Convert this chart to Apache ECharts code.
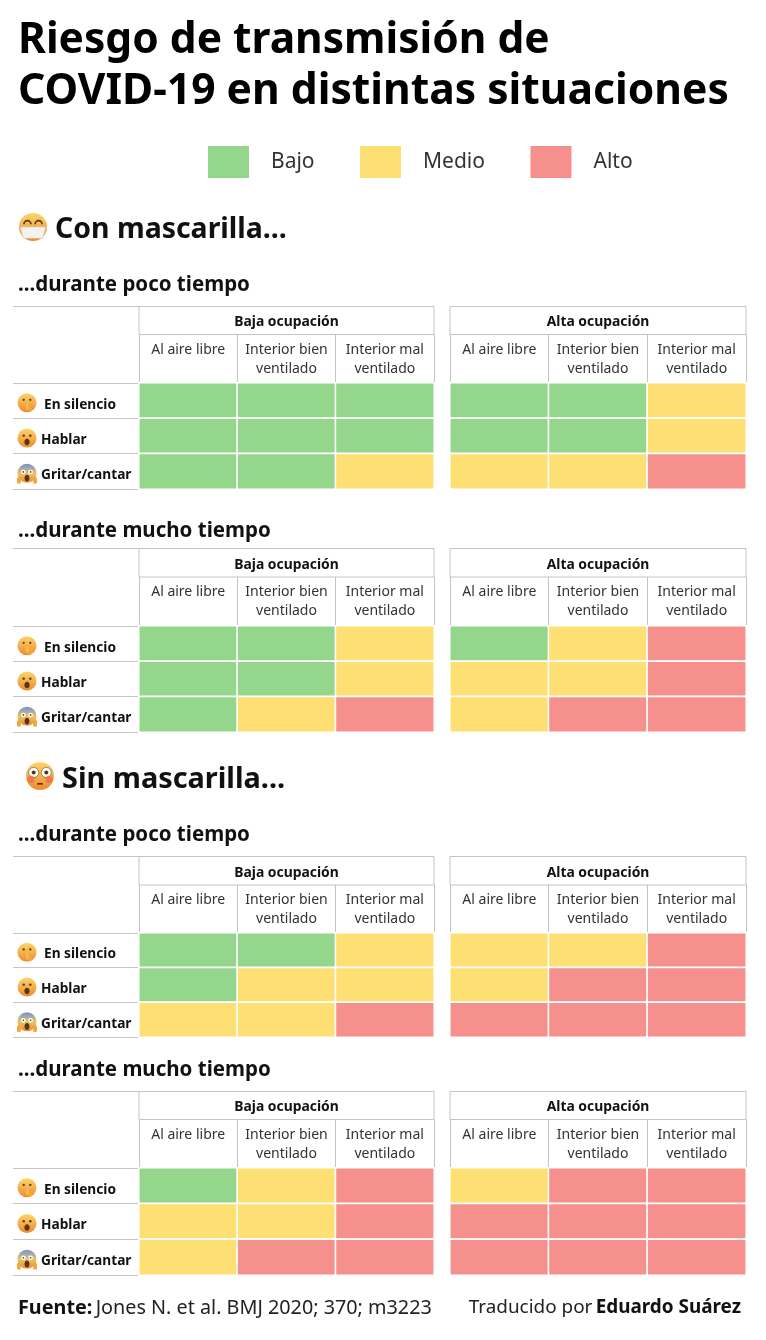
<!DOCTYPE html>
<html><head><meta charset="utf-8">
<style>html,body{margin:0;padding:0;background:#fff}#c{width:766px;height:1340px}</style>
<script src="https://cdn.jsdelivr.net/npm/echarts@6/dist/echarts.min.js"></script>
</head><body><div id="c"></div>
<script>
// 0 = Bajo, 1 = Medio, 2 = Alto
const riskLabels = ['Bajo','Medio','Alto'];
const riskColors = ['#94d78c','#fedf73','#f6908d'];
const columns = ['Al aire libre','Interior bien\nventilado','Interior mal\nventilado'];
const rows = ['En silencio','Hablar','Gritar/cantar'];
const occupancy = ['Baja ocupación','Alta ocupación'];

const conPocoBaja   = [[0,0,0],[0,0,0],[0,0,1]];
const conPocoAlta   = [[0,0,1],[0,0,1],[1,1,2]];
const conMuchoBaja  = [[0,0,1],[0,0,1],[0,1,2]];
const conMuchoAlta  = [[0,1,2],[1,1,2],[1,2,2]];
const sinPocoBaja   = [[0,0,1],[0,1,1],[1,1,2]];
const sinPocoAlta   = [[1,1,2],[1,2,2],[2,2,2]];
const sinMuchoBaja  = [[0,1,2],[1,1,2],[1,2,2]];
const sinMuchoAlta  = [[1,2,2],[2,2,2],[2,2,2]];

const F = '"Noto Sans", sans-serif';
const LINE = '#c4c4c4';
const blocks = [
  {top:306.5, mid:334.5, cellTop:383, cellBottom:489,  sets:[conPocoBaja,conPocoAlta]},
  {top:548.5, mid:577,   cellTop:626, cellBottom:732,  sets:[conMuchoBaja,conMuchoAlta]},
  {top:856.5, mid:885,   cellTop:933, cellBottom:1037, sets:[sinPocoBaja,sinPocoAlta]},
  {top:1091.5,mid:1119.5,cellTop:1168,cellBottom:1275, sets:[sinMuchoBaja,sinMuchoAlta]}
];
const panelX = [[139,434],[450,746]];

const grid=[], xAxis=[], yAxis=[], series=[], graphic=[];

function line(x1,y1,x2,y2){graphic.push({type:'line',silent:true,shape:{x1,y1,x2,y2},style:{stroke:LINE,lineWidth:1}});}
function text(x,y,t,size,weight,color){graphic.push({type:'text',silent:true,x,y,style:{text:t,font:(weight||'normal')+' '+size+'px '+F,fill:color||'#111',textVerticalAlign:'middle'}});}

function face(cx,cy,r,kind){
  const ch=[];
  const s=r/10;
  ch.push({type:'circle',shape:{cx:0,cy:0,r},style:{fill:new echarts.graphic.LinearGradient(0,0,0,1,[{offset:0,color:'#fbd66a'},{offset:1,color:'#ee8a2e'}])}});
  const dark='#5a3414';
  const eye=(x,y,rr)=>ch.push({type:'circle',shape:{cx:x*s,cy:y*s,r:rr*s},style:{fill:dark}});
  if(kind==='mask'){
    ch.push({type:'polygon',shape:{points:[[-9*s,0],[9*s,0],[7*s,8*s],[-7*s,8*s]]},style:{fill:'#f4f2ee',stroke:'#cfcac2',lineWidth:.5}});
    ch.push({type:'arc',shape:{cx:-4*s,cy:-2*s,r:2.5*s,startAngle:Math.PI,endAngle:0},style:{stroke:dark,fill:'none',lineWidth:1.2*s}});
    ch.push({type:'arc',shape:{cx:4*s,cy:-2*s,r:2.5*s,startAngle:Math.PI,endAngle:0},style:{stroke:dark,fill:'none',lineWidth:1.2*s}});
  } else if(kind==='flushed'){
    [-4.5,4.5].forEach(x=>{
      ch.push({type:'circle',shape:{cx:x*s,cy:-2.5*s,r:3.6*s},style:{fill:'#fff',stroke:dark,lineWidth:.5}});
      eye(x,-2.5,1.4);
      ch.push({type:'circle',shape:{cx:x*1.45*s,cy:2.5*s,r:2.6*s},style:{fill:'#ef6a4a',opacity:.75}});
    });
    ch.push({type:'rect',shape:{x:-2*s,y:5*s,width:4*s,height:1.2*s},style:{fill:dark}});
  } else if(kind==='shush'){
    eye(-3.5,-3,1.2); eye(3.5,-3,1.2);
    ch.push({type:'circle',shape:{cx:2*s,cy:5*s,r:4*s},style:{fill:'#f2a63c'}});
    ch.push({type:'rect',shape:{x:-.8*s,y:0,width:2.4*s,height:7*s,r:1*s},style:{fill:'#f6bb52'}});
  } else if(kind==='talk'){
    eye(-3.5,-2.5,1.3); eye(3.5,-2.5,1.3);
    ch.push({type:'ellipse',shape:{cx:0,cy:4.3*s,rx:2.8*s,ry:3.4*s},style:{fill:dark}});
  } else {
    ch[0].style.fill=new echarts.graphic.LinearGradient(0,0,0,1,[{offset:0,color:'#6f8fd8'},{offset:.5,color:'#e8c56a'},{offset:1,color:'#ee8a2e'}]);
    ch.push({type:'circle',shape:{cx:-3.8*s,cy:-1.5*s,r:2.4*s},style:{fill:'#fff'}});
    ch.push({type:'circle',shape:{cx:3.8*s,cy:-1.5*s,r:2.4*s},style:{fill:'#fff'}});
    eye(-3.8,-1.5,.9); eye(3.8,-1.5,.9);
    ch.push({type:'ellipse',shape:{cx:0,cy:5*s,rx:2.6*s,ry:3.6*s},style:{fill:dark}});
    ch.push({type:'rect',shape:{x:-10.5*s,y:4*s,width:4*s,height:7*s,r:1.5*s},style:{fill:'#f2a63c'}});
    ch.push({type:'rect',shape:{x:6.5*s,y:4*s,width:4*s,height:7*s,r:1.5*s},style:{fill:'#f2a63c'}});
  }
  graphic.push({type:'group',silent:true,x:cx,y:cy,children:ch});
}

const rowFont={fontFamily:F,fontSize:13.7,fontWeight:'bold',color:'#111'};

blocks.forEach(b=>{
  const h=b.cellBottom-b.cellTop;
  b.sets.forEach((set,p)=>{
    const [l,r]=panelX[p], idx=grid.length;
    grid.push({left:l,top:b.cellTop,width:r-l,height:h,show:false,outerBoundsMode:'none'});
    xAxis.push({type:'category',gridIndex:idx,position:'top',data:columns,
      axisLine:{show:false},
      axisTick:{show:true,length:b.cellTop-b.mid,lineStyle:{color:LINE,width:1}},
      axisLabel:{interval:0,fontFamily:F,fontSize:14,color:'#333',lineHeight:19,verticalAlign:'top',margin:b.cellTop-b.mid-6},
      name:occupancy[p],nameLocation:'middle',nameGap:b.cellTop-(b.top+b.mid)/2-2,
      nameTextStyle:{fontFamily:F,fontSize:13.9,fontWeight:'bold',color:'#111',verticalAlign:'middle'}});
    yAxis.push({type:'category',gridIndex:idx,inverse:true,data:rows,
      axisLine:{show:false},
      axisTick:{show:p===0,length:126,lineStyle:{color:LINE,width:1}},
      axisLabel:Object.assign({show:p===0,interval:0,align:'left',margin:98,padding:[8,0,0,0],
        formatter:v=>v===rows[0]?'{s|'+v+'}':v,
        rich:{s:Object.assign({padding:[0,0,0,3]},rowFont)}},rowFont)});
    const data=[];
    set.forEach((row,y)=>row.forEach((v,x)=>data.push([x,y,v])));
    series.push({type:'heatmap',xAxisIndex:idx,yAxisIndex:idx,data,silent:true,
      itemStyle:{borderColor:'#fff',borderWidth:1.6},emphasis:{disabled:true}});
    // table frame
    line(l,b.top,r,b.top);
    line(l,b.mid,r,b.mid);
    line(l,b.top,l,b.mid);
    line(r,b.top,r,b.mid);
  });
  line(13,b.top,139,b.top);
  const rh=h/3;
  ['shush','talk','scream'].forEach((k,i)=>face(27,b.cellTop+rh*(i+.5)+2,9.5,k));
});

text(18,41,'Riesgo de transmisión de',42.5,'bold','#000');
text(18,92,'COVID-19 en distintas situaciones',42.6,'bold','#000');
face(33,227,14,'mask');
text(55,230,'Con mascarilla...',28.45,'bold','#111');
text(18,285,'...durante poco tiempo',20.5,'bold','#111');
text(18,531,'...durante mucho tiempo',20.5,'bold','#111');
face(40,776,14,'flushed');
text(62,780,'Sin mascarilla...',28.85,'bold','#111');
text(18,835,'...durante poco tiempo',20.5,'bold','#111');
text(18,1070,'...durante mucho tiempo',20.5,'bold','#111');
graphic.push({type:'text',silent:true,x:18,y:1308,style:{textVerticalAlign:'middle',
  rich:{b:{font:'bold 19.8px '+F,fill:'#111'},n:{font:'19.8px '+F,fill:'#222'}},text:'{b|Fuente:} {n|Jones N. et al. BMJ 2020; 370; m3223}'}});
graphic.push({type:'text',silent:true,x:741,y:1308,style:{textAlign:'right',textVerticalAlign:'middle',
  rich:{b:{font:'bold 18.9px '+F,fill:'#111'},n:{font:'18.9px '+F,fill:'#222'}},text:'{n|Traducido por} {b|Eduardo Suárez}'}});

const chart=echarts.init(document.getElementById('c'),null,{renderer:'canvas'});
chart.setOption({
  animation:false,backgroundColor:'#fff',
  grid,xAxis,yAxis,series,graphic,
  visualMap:{type:'piecewise',orient:'horizontal',left:208,top:146,padding:0,
    itemWidth:41,itemHeight:32,itemSymbol:'rect',itemGap:45.5,textGap:22,
    showLabel:true,hoverLink:false,selectedMode:false,
    dimension:2,seriesIndex:series.map((_,i)=>i),
    pieces:riskLabels.map((label,i)=>({value:i,label,color:riskColors[i]})),
    textStyle:{fontFamily:F,fontSize:21,color:'#333'}}
});
</script></body></html>
